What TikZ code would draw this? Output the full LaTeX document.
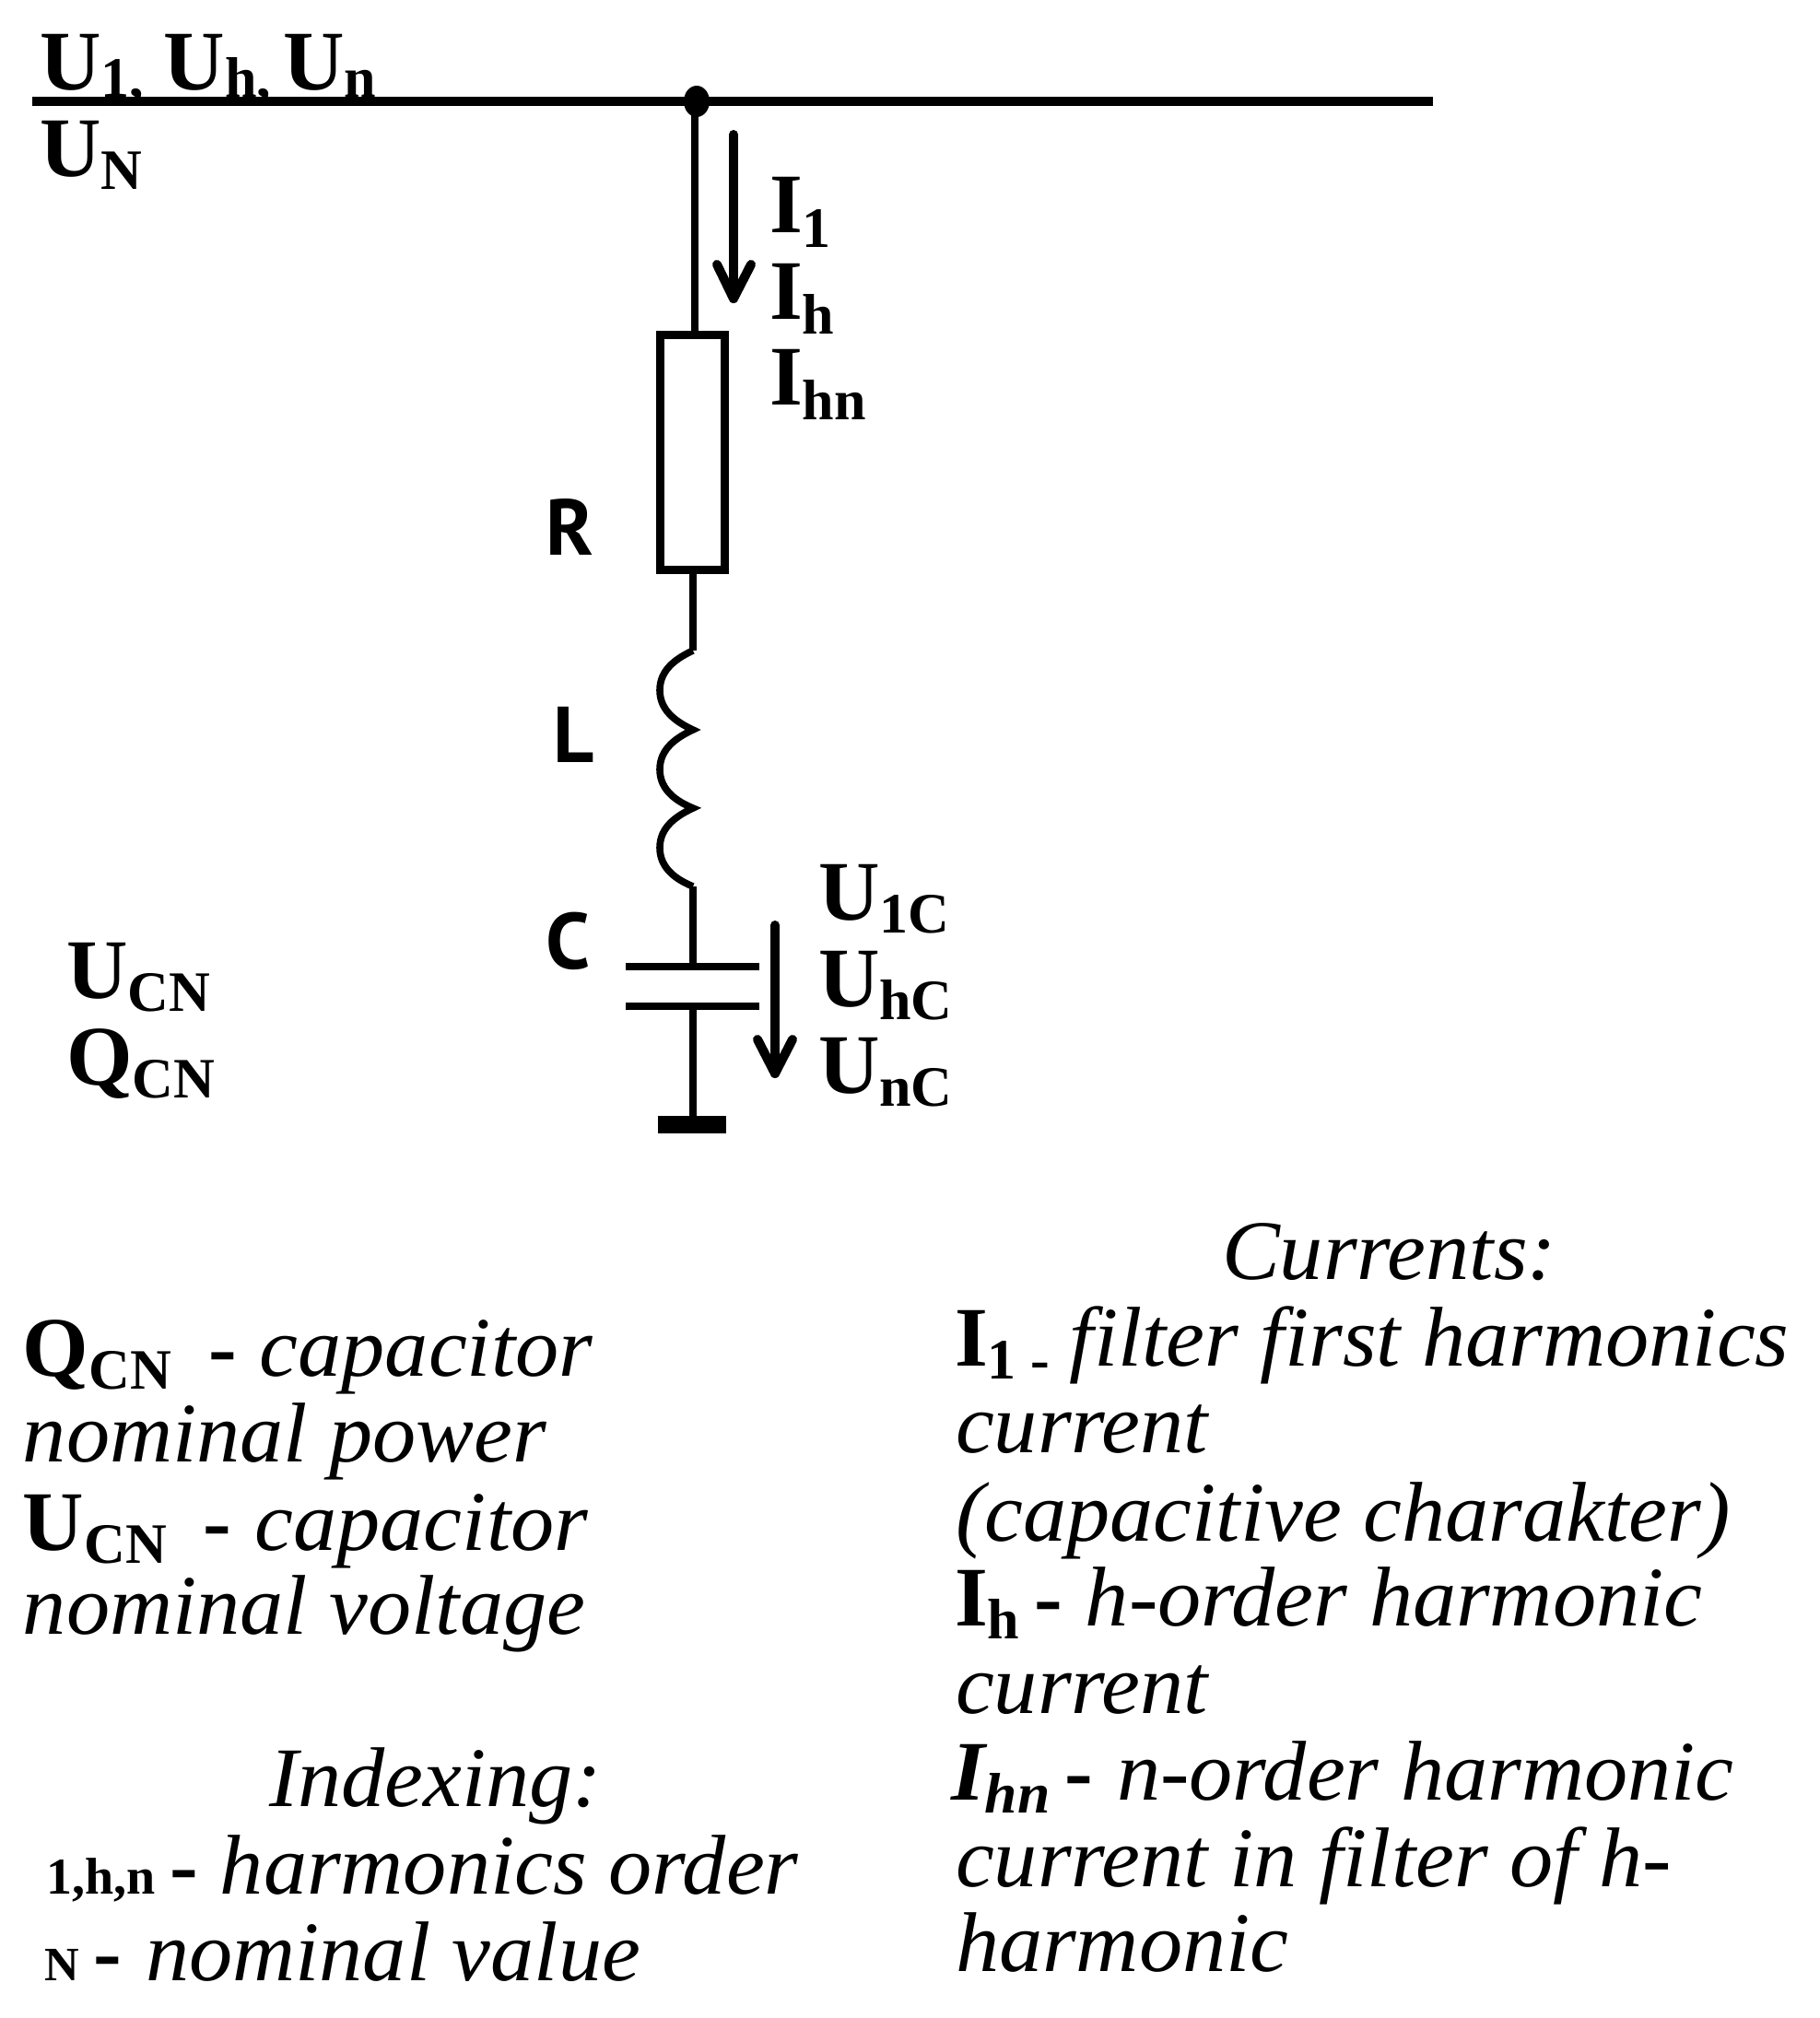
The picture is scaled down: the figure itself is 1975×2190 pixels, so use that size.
\documentclass[tikz,border=0pt]{standalone}
\usepackage{fontspec}
\setmainfont{Liberation Serif}
\newfontfamily\lblsans{PT Sans}[BoldFont={PT Sans Bold}]
\newfontfamily\itwide{Liberation Serif}[UprightFont={* Italic},BoldFont={* Bold Italic},FakeStretch=1.025]
\newcommand{\px}[1]{\fontsize{#1pt}{#1pt}\selectfont}
\newcommand{\lowsub}[2]{\raisebox{-#1pt}{\px{31}#2}}
\newcommand{\rmb}{\rmfamily\upshape\bfseries}
\newcommand{\dashb}{{\rmb\px{46}-}}
\tikzset{
  x=0.5pt,y=-0.5pt,
  txt/.style={anchor=base west,inner sep=0pt,outer sep=0pt,font=\px{46}\itwide},
  sym/.style={anchor=base west,inner sep=0pt,outer sep=0pt,font=\px{46}\bfseries},
  elem/.style={anchor=base west,inner sep=0pt,outer sep=0pt,font=\px{43}\lblsans\bfseries},
  wire/.style={line width=3.8pt,line cap=butt},
  arrow/.style={line width=5pt,line cap=round,line join=round},
}
\begin{document}
\begin{tikzpicture}
\useasboundingbox (0,0) rectangle (1975,2190);
\fill[white] (0,0) rectangle (1975,2190);
% coordinates
\coordinate (busL) at (35,110);
\coordinate (busR) at (1555,110);
\coordinate (topJ) at (756,110);
\coordinate (topW) at (754,110);
\coordinate (cTop) at (752,706);
\coordinate (c1) at (752,792);
\coordinate (c2) at (752,877);
\coordinate (c3) at (752,962);
\coordinate (plate1) at (752,1049);
\coordinate (plate2) at (752,1092);
\coordinate (gnd) at (752,1214);
\coordinate (a1s) at (796,146);
\coordinate (a1t) at (796,324);
\coordinate (a1l) at (778,287);
\coordinate (a1r) at (815,287);
\coordinate (a2s) at (841,1004);
\coordinate (a2t) at (841,1165);
\coordinate (a2l) at (822,1128);
\coordinate (a2r) at (860,1128);
% bus
\draw[line width=4.6pt] (busL) -- (busR);
\fill (topJ) ellipse [x radius=14, y radius=17];
\node[draw,line width=4.6pt,minimum width=35pt,minimum height=127.5pt,inner sep=0pt,fill=white,anchor=north] (res) at (751.5,359) {};
\draw[wire] (topW) -- (topW |- res.north);
\draw[wire] (cTop |- res.south) -- (cTop);
% coil
\draw[wire,line join=miter]
  (cTop) .. controls (735,714) and (716,726) .. (716,749)
         .. controls (716,772) and (735,784) .. (c1)
         .. controls (735,800) and (716,812) .. (716,835)
         .. controls (716,858) and (735,870) .. (c2)
         .. controls (735,885) and (716,897) .. (716,920)
         .. controls (716,943) and (735,955) .. (c3);
\draw[wire] (c3) -- (plate1);
\draw[wire] (plate2) -- (gnd);
\draw[line width=3.6pt] (679,1049) -- (plate1) -- (824,1049);
\draw[line width=3.6pt] (679,1092) -- (plate2) -- (824,1092);
\node[fill=black,minimum width=37pt,minimum height=9.5pt,inner sep=0pt,anchor=north] (gbar) at (751,1211) {};
% arrows
\draw[arrow] (a1s) -- (a1t);
\draw[arrow] (a1l) -- (a1t) -- (a1r);
\draw[arrow] (a2s) -- (a2t);
\draw[arrow] (a2l) -- (a2t) -- (a2r);
% element labels
\node[elem] (lR) at (592,602) {R};
\node[elem] (lL) at (600,827) {L};
\node[elem] (lC) at (592,1051) {C};
% symbols
\node[sym] (u1) at (43,97) {U\lowsub{4}{1,}\hspace{11pt}U\lowsub{4}{h,}\hspace{6.5pt}U\lowsub{4}{n}};
\node[sym] (uN) at (43,191) {U\lowsub{7}{N}};
\node[sym] (i1) at (835,252) {I\lowsub{8}{1}};
\node[sym] (ih) at (835,346) {I\lowsub{8}{h}};
\node[sym] (ihn) at (835,439) {I\lowsub{8}{hn}};
\node[sym] (u1c) at (888,998) {U\lowsub{7}{1C}};
\node[sym] (uhc) at (888,1092) {U\lowsub{7}{hC}};
\node[sym] (unc) at (888,1186) {U\lowsub{7}{nC}};
\node[sym] (ucn) at (72,1083) {U\lowsub{7}{CN}};
\node[sym] (qcn) at (72,1177) {Q\lowsub{7}{CN}};
% left legend
\node[txt] (a) at (25,1493) {{\rmb\px{46}Q\lowsub{7}{CN}}\hspace{20pt}\dashb\hspace{12.5pt}capacitor};
\node[txt] (b) at (25,1586) {nominal power};
\node[txt] (c) at (25,1682) {{\rmb\px{46}U\lowsub{7}{CN}}\hspace{20pt}\dashb\hspace{12.5pt}capacitor};
\node[txt] (d) at (25,1773) {nominal voltage};
\node[txt] (e) at (292,1960) {Indexing:};
\node[txt] (f) at (50,2055) {{\rmb\px{28}1,h,n}\hspace{8pt}\dashb\hspace{12pt}harmonics order};
\node[txt] (g) at (48,2149) {{\rmb\px{26}N}\hspace{8pt}\dashb\hspace{13pt}nominal value};
% right legend
\node[txt] (p) at (1326,1388) {Currents:};
\node[txt] (q) at (1036,1482) {{\rmb\px{46}I\lowsub{7}{1 -}}\hspace{11pt}filter first harmonics};
\node[txt] (r) at (1037,1576) {current};
\node[txt] (s) at (1037,1672) {(capacitive charakter)};
\node[txt] (t) at (1036,1764) {{\rmb\px{46}I\lowsub{7}{h}}\hspace{8pt}\dashb\hspace{12.5pt}h-order harmonic};
\node[txt] (u) at (1037,1859) {current};
\node[txt] (v) at (1032,1953) {{\bfseries\px{46}I\lowsub{7}{hn}}\hspace{8pt}\dashb\hspace{13pt}n-order harmonic};
\node[txt] (w) at (1037,2047) {current in filter of h-};
\node[txt] (y) at (1037,2139) {harmonic};
\end{tikzpicture}
\end{document}
